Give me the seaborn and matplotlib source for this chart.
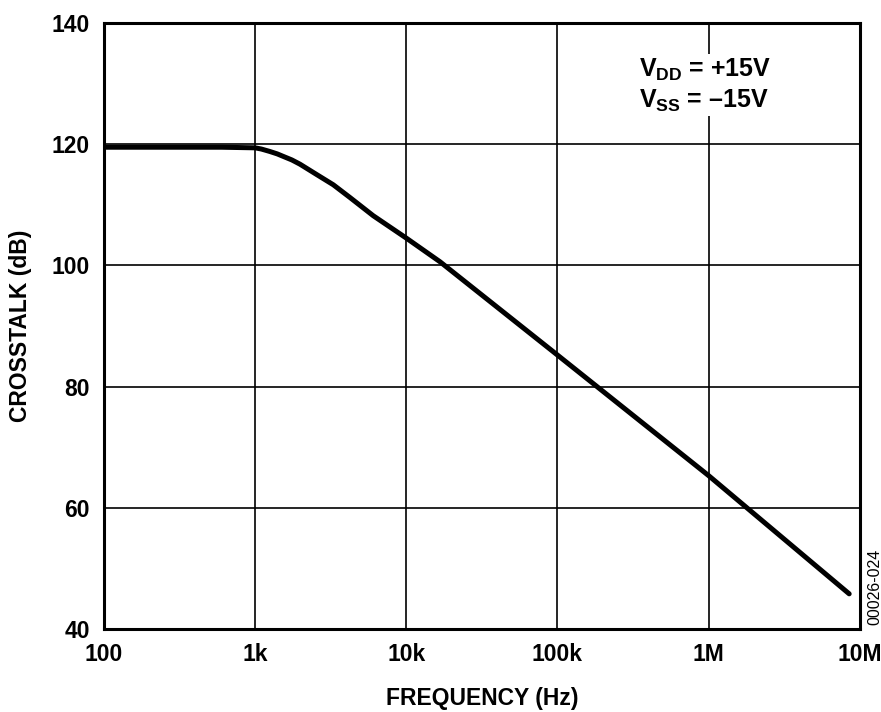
import matplotlib
matplotlib.use("Agg")
import matplotlib.pyplot as plt
import seaborn as sns
import pandas as pd
from matplotlib.ticker import FixedLocator, FixedFormatter, NullLocator

freq_hz = [100, 300, 600, 1000, 1100, 1250, 1400, 1530, 1750, 1980, 2550, 3290,
           4240, 6040, 10000, 16700, 100000, 1000000, 8500000]
crosstalk_db = [119.5, 119.5, 119.5, 119.4, 119.2, 118.8, 118.4, 118.0, 117.4,
                116.7, 115.0, 113.3, 111.2, 108.2, 104.5, 100.6, 85.2, 65.3, 45.8]
x_ticks = [100, 1e3, 1e4, 1e5, 1e6, 1e7]
x_tick_labels = ["100", "1k", "10k", "100k", "1M", "10M"]
y_ticks = [40, 60, 80, 100, 120, 140]

sns.set_theme(style="white")
plt.rcParams['font.family'] = ['Liberation Sans', 'DejaVu Sans']
plt.rcParams['mathtext.fontset'] = 'custom'
plt.rcParams['mathtext.rm'] = 'Liberation Sans:bold'
plt.rcParams['mathtext.bf'] = 'Liberation Sans:bold'
plt.rcParams['mathtext.it'] = 'Liberation Sans:bold'
plt.rcParams['text.color'] = 'black'
plt.rcParams['axes.labelcolor'] = 'black'

df = pd.DataFrame({"freq": freq_hz, "db": crosstalk_db})

fig = plt.figure(figsize=(8.81, 7.12), dpi=100)
ax = fig.add_axes([0.118, 0.1166, 0.858, 0.8511])

sns.lineplot(data=df, x="freq", y="db", ax=ax, color="black", linewidth=3.6,
             zorder=3)
ax.set_xscale("log")
ax.set_xlim(100, 1e7)
ax.set_ylim(40, 140)
ax.xaxis.set_major_locator(FixedLocator(x_ticks))
ax.xaxis.set_major_formatter(FixedFormatter(x_tick_labels))
ax.xaxis.set_minor_locator(NullLocator())
ax.set_yticks(y_ticks)

ax.grid(True, which="major", color="black", linewidth=1.2)
for s in ax.spines.values():
    s.set_color("black")
    s.set_linewidth(2.2)
ax.tick_params(axis="both", length=0, labelsize=16.5, pad=10,
               colors="black", labelcolor="black")
for lab in ax.get_xticklabels() + ax.get_yticklabels():
    lab.set_fontweight("bold")

ax.set_xlabel("FREQUENCY (Hz)", fontsize=16.5, fontweight="bold", labelpad=15,
              color="black")
ax.set_ylabel("CROSSTALK (dB)", fontsize=16.5, fontweight="bold", labelpad=14,
              color="black")

ax.text(0.708, 0.945, r"V$_{\mathregular{DD}}$ = +15V" + "\n" + r"V$_{\mathregular{SS}}$ = –15V",
        transform=ax.transAxes, fontsize=18, fontweight="bold", va="top", ha="left",
        linespacing=1.25, color="black",
        bbox=dict(facecolor="white", edgecolor="none", pad=2), zorder=4)

fig.text(0.993, 0.176, "00026-024", rotation=90, fontsize=11.5, ha="center",
         va="center", color="black")

fig.savefig("out.png", dpi=100, facecolor="white")
